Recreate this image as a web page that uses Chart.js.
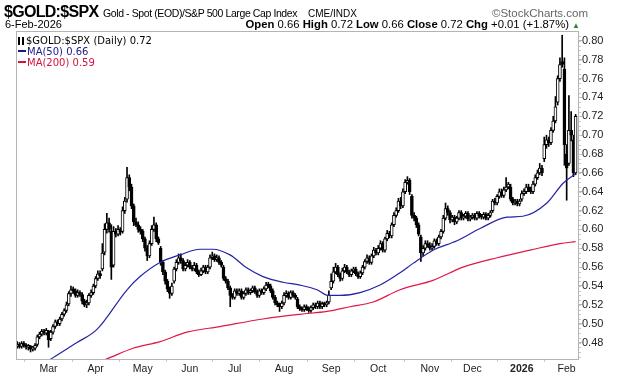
<!DOCTYPE html>
<html>
<head>
<meta charset="utf-8">
<script src="https://cdn.jsdelivr.net/npm/chart.js@4.4.1/dist/chart.umd.min.js"></script>
<style>
  body { margin: 0; background: #fff; }
  #wrap { position: relative; width: 620px; height: 376px; font-family: "Liberation Sans", Arial, sans-serif; }
  #wrap canvas { position: absolute; left: 0; top: 0; }
  .t { position: absolute; white-space: nowrap; color: #000; line-height: 1; }
  .lg { position: absolute; left: 18px; font-family: "DejaVu Sans", Verdana, sans-serif; font-size: 10px; line-height: 1; white-space: nowrap; }
  .ic { display: inline-block; width: 2px; height: 8px; border-left: 2px solid #000; border-right: 2px solid #000; margin-right: 2px; vertical-align: -1px; }
  .dash { display: inline-block; width: 8px; height: 2px; margin-right: 1px; vertical-align: 3px; }
</style>
</head>
<body>
<div id="wrap">
  <canvas id="c" width="620" height="376"></canvas>
  <div class="t" style="left:4px;top:4px;font-size:16px;font-weight:bold;letter-spacing:-0.7px;">$GOLD:$SPX</div>
  <div class="t" style="left:103px;top:8px;font-size:10.5px;letter-spacing:-0.4px;">Gold - Spot (EOD)/S&amp;P 500 Large Cap Index</div>
  <div class="t" style="left:308px;top:9px;font-size:10px;">CME/INDX</div>
  <div class="t" style="right:32px;top:8px;font-size:11.5px;color:#666;">&copy;StockCharts.com</div>
  <div class="t" style="left:5px;top:19px;font-size:11px;">6-Feb-2026</div>
  <div class="t" style="right:40px;top:19px;font-size:11.3px;"><b>Open</b> 0.66 <b>High</b> 0.72 <b>Low</b> 0.66 <b>Close</b> 0.72 <b>Chg</b> +0.01 (+1.87%) <span style="color:#2e8b2e;font-size:8px;">&#9650;</span></div>
  <div class="lg" style="top:36px;"><span class="ic"></span>$GOLD:$SPX (Daily) 0.72</div>
  <div class="lg" style="top:47px;color:#1a1a8c;"><span class="dash" style="background:#1a1a8c;"></span>MA(50) 0.66</div>
  <div class="lg" style="top:58px;color:#d4123e;"><span class="dash" style="background:#d4123e;"></span>MA(200) 0.59</div>
</div>
<script>
// trading days Feb 10, 2025 .. Feb 6, 2026 (250 sessions), index = session number
const monthIdx = [14, 35, 56, 77, 97, 119, 140, 161, 184, 203, 225, 245];
const monthLabels = ['Mar', 'Apr', 'May', 'Jun', 'Jul', 'Aug', 'Sep', 'Oct', 'Nov', 'Dec', '2026', 'Feb'];
const yTicks = [0.48, 0.50, 0.52, 0.54, 0.56, 0.58, 0.60, 0.62, 0.64, 0.66, 0.68, 0.70, 0.72, 0.74, 0.76, 0.78, 0.80];

const opens = [
  .476,.478,.476,.479,.477,.475,.476,.473,.474,.478,.486,.489,.492,.490,.492,.484,.491,.497,.502,.500,
  .505,.510,.514,.521,.532,.536,.535,.530,.533,.531,.524,.520,.522,.530,.533,.540,.548,.553,.558,.576,
  .600,.607,.598,.562,.598,.595,.600,.598,.620,.632,.655,.645,.625,.608,.605,.600,.598,.590,.580,.572,
  .585,.600,.605,.590,.580,.565,.555,.545,.537,.532,.545,.558,.565,.570,.567,.558,.562,.565,.560,.558,
  .562,.555,.552,.556,.560,.555,.560,.570,.572,.568,.570,.565,.560,.548,.545,.538,.530,.528,.535,.532,
  .535,.528,.532,.536,.533,.535,.538,.534,.530,.535,.533,.537,.541,.540,.535,.528,.522,.520,.518,.522,
  .530,.532,.528,.533,.530,.526,.518,.516,.515,.518,.516,.514,.517,.520,.518,.522,.518,.521,.520,.523,
  .538,.545,.555,.560,.552,.548,.556,.560,.555,.552,.556,.558,.553,.550,.554,.560,.566,.570,.565,.572,
  .578,.575,.580,.585,.578,.590,.596,.593,.605,.615,.620,.630,.625,.640,.650,.652,.635,.615,.612,.605,
  .592,.575,.580,.585,.583,.580,.582,.588,.585,.592,.598,.612,.622,.618,.610,.613,.608,.612,.618,.612,
  .614,.617,.611,.613,.615,.612,.617,.614,.613,.616,.612,.615,.620,.630,.628,.635,.640,.636,.642,.645,
  .645,.632,.628,.630,.627,.632,.638,.640,.645,.642,.640,.648,.655,.660,.665,.675,.690,.695,.692,.705,
  .715,.735,.760,.778,.770,.680,.670,.705,.695,.660
];
const highs = [
  .481,.480,.481,.481,.479,.478,.477,.476,.479,.488,.491,.494,.494,.495,.493,.493,.499,.504,.504,.507,
  .512,.516,.523,.534,.540,.539,.537,.536,.535,.533,.526,.525,.532,.536,.542,.550,.556,.556,.585,.606,
  .617,.612,.605,.603,.601,.604,.602,.624,.634,.666,.658,.648,.627,.612,.608,.603,.600,.592,.583,.588,
  .604,.613,.607,.592,.582,.567,.557,.547,.539,.543,.560,.568,.574,.574,.569,.565,.568,.567,.562,.565,
  .564,.557,.559,.562,.562,.562,.573,.576,.574,.573,.572,.567,.562,.550,.547,.540,.532,.537,.537,.537,
  .537,.534,.538,.538,.537,.540,.540,.536,.537,.537,.539,.544,.544,.542,.537,.530,.524,.522,.524,.533,
  .535,.534,.535,.535,.532,.528,.520,.518,.520,.520,.518,.519,.522,.522,.524,.524,.523,.523,.524,.535,
  .553,.560,.564,.562,.554,.559,.563,.562,.557,.558,.560,.560,.555,.556,.562,.568,.573,.572,.574,.581,
  .580,.583,.588,.587,.592,.599,.598,.607,.618,.623,.633,.634,.643,.653,.656,.654,.637,.618,.614,.607,
  .594,.583,.588,.588,.586,.585,.590,.590,.594,.600,.615,.628,.625,.620,.615,.615,.614,.620,.620,.616,
  .619,.619,.615,.617,.617,.619,.619,.616,.618,.618,.617,.620,.632,.633,.637,.643,.643,.645,.655,.650,
  .648,.634,.632,.632,.632,.641,.643,.648,.648,.645,.651,.658,.663,.670,.668,.698,.700,.698,.708,.720,
  .741,.763,.782,.806,.782,.690,.742,.725,.700,.722
];
const lows = [
  .474,.474,.474,.475,.473,.472,.470,.471,.472,.476,.484,.487,.488,.488,.475,.482,.489,.495,.498,.498,
  .503,.508,.512,.519,.529,.532,.528,.528,.529,.521,.518,.517,.520,.528,.531,.538,.546,.548,.556,.573,
  .596,.597,.547,.560,.592,.593,.594,.596,.617,.629,.641,.622,.604,.603,.597,.595,.587,.577,.567,.570,
  .583,.598,.587,.584,.562,.552,.542,.534,.527,.530,.543,.556,.563,.564,.556,.556,.560,.558,.556,.556,
  .553,.550,.551,.554,.553,.553,.558,.568,.566,.566,.563,.560,.546,.543,.536,.518,.526,.526,.530,.530,
  .526,.526,.530,.531,.531,.533,.532,.528,.528,.531,.531,.535,.538,.533,.526,.520,.518,.513,.516,.520,
  .528,.526,.526,.528,.526,.516,.514,.513,.513,.514,.512,.512,.515,.516,.516,.516,.516,.518,.518,.521,
  .536,.543,.553,.550,.545,.546,.554,.553,.550,.550,.554,.551,.548,.548,.552,.558,.564,.563,.563,.570,
  .573,.573,.578,.576,.576,.588,.591,.591,.603,.613,.618,.622,.623,.638,.648,.637,.612,.609,.602,.593,
  .566,.572,.578,.581,.578,.578,.580,.583,.583,.590,.596,.610,.615,.607,.608,.605,.606,.610,.610,.610,
  .612,.609,.609,.611,.610,.610,.612,.611,.611,.610,.610,.613,.618,.626,.626,.633,.634,.634,.640,.643,
  .630,.626,.626,.625,.625,.630,.636,.638,.640,.638,.638,.646,.653,.658,.657,.672,.686,.688,.690,.703,
  .713,.732,.757,.772,.668,.631,.668,.694,.656,.658
];
const closes = [
  .478,.476,.479,.477,.475,.476,.473,.474,.477,.486,.489,.492,.490,.493,.483,.491,.497,.502,.500,.505,
  .510,.514,.520,.532,.536,.535,.530,.533,.531,.524,.520,.522,.530,.533,.540,.548,.553,.551,.575,.600,
  .607,.600,.560,.598,.595,.600,.597,.620,.630,.655,.645,.625,.608,.605,.600,.598,.590,.580,.572,.585,
  .600,.605,.590,.586,.565,.555,.545,.537,.532,.540,.558,.565,.570,.567,.558,.562,.565,.560,.558,.562,
  .555,.552,.556,.560,.555,.560,.570,.572,.568,.570,.565,.562,.548,.545,.538,.530,.528,.535,.532,.535,
  .528,.532,.536,.533,.535,.538,.534,.530,.535,.533,.537,.541,.540,.535,.528,.522,.520,.518,.522,.530,
  .532,.528,.533,.530,.528,.518,.516,.515,.518,.516,.514,.517,.520,.518,.522,.518,.521,.520,.522,.530,
  .545,.555,.560,.552,.548,.556,.560,.555,.552,.556,.558,.553,.550,.554,.560,.566,.570,.565,.572,.578,
  .575,.580,.585,.578,.590,.596,.593,.605,.615,.620,.630,.625,.640,.650,.652,.640,.615,.612,.605,.595,
  .575,.580,.585,.583,.580,.582,.588,.585,.592,.598,.612,.622,.618,.610,.613,.608,.612,.618,.612,.614,
  .617,.611,.613,.615,.612,.617,.614,.613,.616,.612,.615,.618,.630,.628,.635,.640,.636,.642,.645,.648,
  .632,.628,.630,.627,.630,.638,.640,.645,.642,.640,.648,.655,.660,.665,.660,.690,.695,.692,.705,.715,
  .730,.760,.775,.775,.690,.665,.705,.700,.660,.720
];

const ma50Idx = [-2, 14.7, 22.7, 26.7, 35.6, 49, 54.8, 63.7, 72.6, 81.5, 87.3, 94.9, 102.5, 109.6, 118.5, 126.1, 133.7, 138.6, 144, 152.9, 161.8, 170.7, 176.5, 185.4, 196.1, 206.4, 218.4, 225.5, 236.2, 243.4, 249];
const ma50Val = [0.440, 0.462, 0.474, 0.480, 0.494, 0.536, 0.550, 0.565, 0.573, 0.579, 0.579, 0.573, 0.559, 0.550, 0.544, 0.541, 0.536, 0.530, 0.530, 0.533, 0.541, 0.554, 0.564, 0.578, 0.588, 0.601, 0.613, 0.614, 0.628, 0.649, 0.659];
const ma200Idx = [30, 39.2, 51.7, 63.7, 75.7, 90.5, 109.6, 126.1, 138.2, 148.4, 158.7, 170.7, 185.4, 198.8, 214, 228.7, 242, 249];
const ma200Val = [0.455, 0.462, 0.474, 0.481, 0.491, 0.497, 0.505, 0.510, 0.513, 0.518, 0.523, 0.536, 0.546, 0.560, 0.570, 0.578, 0.585, 0.587];

const wicks = highs.map((h, i) => ({ x: i, y: [lows[i], h] }));
const bodies = opens.map((o, i) => ({ x: i, y: [Math.min(o, closes[i]), Math.max(o, closes[i])] }));
const bodyFill = opens.map((o, i) => (closes[i] >= o ? '#ffffff' : '#000000'));

const framePlugin = {
  id: 'frame',
  afterDraw(chart) {
    const { ctx, chartArea: a } = chart;
    const y = chart.scales.y;
    ctx.save();
    ctx.strokeStyle = '#b4b4b4';
    ctx.lineWidth = 1;
    ctx.strokeRect(Math.round(a.left) + 0.5, Math.round(a.top) + 0.5, Math.round(a.right - a.left) - 1, Math.round(a.bottom - a.top) - 1);
    // minor ticks on the right edge
    ctx.strokeStyle = '#c8c8c8';
    for (let v = 0.465; v < 0.81; v += 0.005) {
      const py = Math.round(y.getPixelForValue(v)) + 0.5;
      if (py < a.top || py > a.bottom) continue;
      ctx.beginPath();
      ctx.moveTo(a.right, py);
      ctx.lineTo(a.right + 2, py);
      ctx.stroke();
    }
    ctx.restore();
  }
};

new Chart(document.getElementById('c').getContext('2d'), {
  data: {
    datasets: [
      {
        type: 'line',
        data: ma50Idx.map((x, i) => ({ x, y: ma50Val[i] })),
        borderColor: '#2323a6',
        borderWidth: 1.2,
        pointRadius: 0,
        cubicInterpolationMode: 'monotone',
        order: 0
      },
      {
        type: 'line',
        data: ma200Idx.map((x, i) => ({ x, y: ma200Val[i] })),
        borderColor: '#e0184a',
        borderWidth: 1.2,
        pointRadius: 0,
        cubicInterpolationMode: 'monotone',
        order: 0
      },
      {
        type: 'bar',
        data: bodies,
        backgroundColor: bodyFill,
        borderColor: '#000',
        borderWidth: 1,
        borderSkipped: false,
        barThickness: 3,
        minBarLength: 2,
        grouped: false,
        order: 1
      },
      {
        type: 'bar',
        data: wicks,
        backgroundColor: '#000',
        borderWidth: 0,
        barThickness: 1,
        grouped: false,
        order: 2
      }
    ]
  },
  options: {
    responsive: false,
    animation: false,
    layout: { padding: { left: 16, top: 31, right: 0, bottom: 0 } },
    plugins: { legend: { display: false }, tooltip: { enabled: false } },
    scales: {
      x: {
        type: 'linear',
        min: -0.5,
        max: 250.5,
        offset: false,
        grid: { drawOnChartArea: false, color: '#c8c8c8', tickLength: 2 },
        border: { display: false },
        afterBuildTicks: (s) => { s.ticks = monthIdx.map((v) => ({ value: v })); },
        afterFit: (s) => { s.height = 16; },
        ticks: {
          autoSkip: false,
          maxRotation: 0,
          padding: 1,
          color: '#222',
          font: (c) => ({ family: 'Liberation Sans, Arial, sans-serif', size: 10.5, weight: c.tick && c.tick.value === 225 ? 'bold' : 'normal' }),
          callback: (v) => monthLabels[monthIdx.indexOf(v)]
        }
      },
      y: {
        type: 'linear',
        position: 'right',
        min: 0.4615,
        max: 0.8105,
        grid: { drawOnChartArea: false, color: '#b4b4b4', tickLength: 3 },
        border: { display: false },
        afterBuildTicks: (s) => { s.ticks = yTicks.map((v) => ({ value: v })); },
        afterFit: (s) => { s.width = 41; },
        ticks: {
          padding: 0,
          color: '#222',
          font: { family: 'Liberation Sans, Arial, sans-serif', size: 11 },
          callback: (v) => Number(v).toFixed(2)
        }
      }
    }
  },
  plugins: [framePlugin]
});
</script>
</body>
</html>
